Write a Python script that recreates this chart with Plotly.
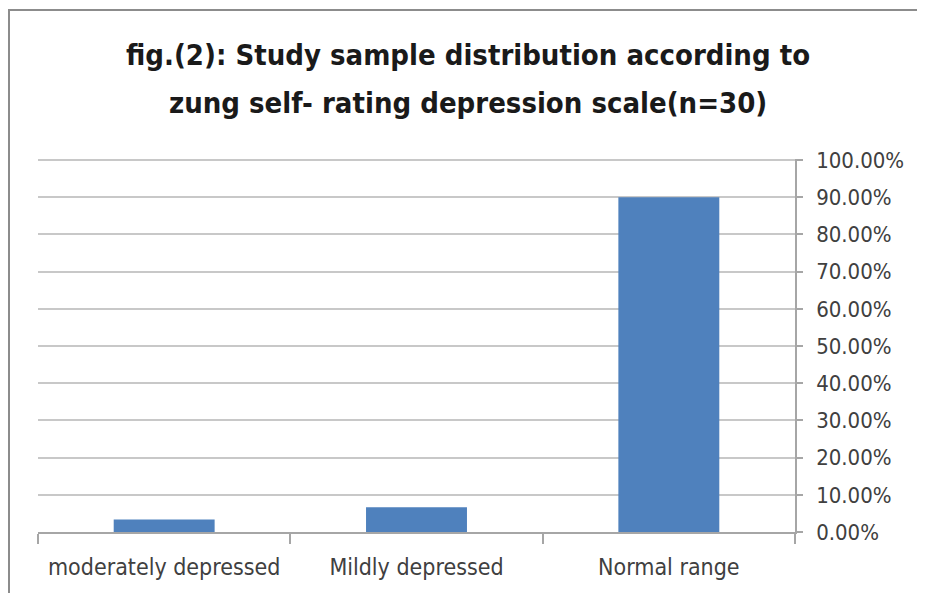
import plotly.graph_objects as go

categories = ["moderately depressed", "Mildly depressed", "Normal range"]
percent_values = [0.0333, 0.0667, 0.90]
tick_values = [0, 0.1, 0.2, 0.3, 0.4, 0.5, 0.6, 0.7, 0.8, 0.9, 1.0]
tick_labels = ["0.00%", "10.00%", "20.00%", "30.00%", "40.00%", "50.00%",
               "60.00%", "70.00%", "80.00%", "90.00%", "100.00%"]
title_line1 = "fig.(2): Study sample distribution according to"
title_line2 = "zung self- rating depression scale(n=30)"

# the page body adds an 8px offset, so the figure is drawn 8px smaller
OFF = 8
W, H = 925 - OFF, 593 - OFF
L, R, T, B = 38 - OFF, 925 - 795, 159 - OFF, 593 - 532
pw, ph = W - L - R, H - T - B

def px_x(p):
    return (p - OFF - L) / pw

def px_y(p):
    return (H - B - (p - OFF)) / ph

FONT = "DejaVu Sans Condensed, Liberation Sans Narrow, sans-serif"

fig = go.Figure()
fig.add_trace(go.Bar(x=categories, y=percent_values, marker_color="#4f81bd",
                     marker_line_width=0))

fig.update_layout(
    width=W, height=H,
    margin=dict(l=L, r=R, t=T, b=B),
    paper_bgcolor="white", plot_bgcolor="white",
    bargap=0.6,
    showlegend=False,
    font=dict(family=FONT, color="#404040"),
)
fig.update_xaxes(
    type="category", tickson="boundaries", ticks="outside", ticklen=10,
    tickcolor="#a6a6a6", tickwidth=1.5,
    showline=True, linecolor="#a6a6a6", linewidth=1.5,
    showgrid=False, tickfont=dict(size=23, color="#404040", family=FONT),
    ticklabelstandoff=14,
)
fig.update_yaxes(
    side="right", range=[0, 1.003], tickvals=tick_values, ticktext=tick_labels,
    ticks="outside", ticklen=6, tickcolor="#a6a6a6", tickwidth=1.5,
    showline=True, linecolor="#a6a6a6", linewidth=1.5,
    showgrid=True, gridcolor="#c8c8c8", gridwidth=1.5, zeroline=False,
    tickfont=dict(size=22, color="#404040", family=FONT),
    ticklabelstandoff=9,
)
for txt, yc in [(title_line1, 55), (title_line2, 103)]:
    fig.add_annotation(
        text="<b>" + txt + "</b>", xref="paper", yref="paper",
        x=px_x(468), y=px_y(yc), xanchor="center", yanchor="middle",
        showarrow=False, font=dict(size=29, color="#1a1a1a", family=FONT),
    )
# outer frame (top and left edges as in the reference)
fig.add_shape(type="line", xref="paper", yref="paper",
              x0=px_x(8), y0=px_y(10), x1=px_x(925), y1=px_y(10),
              line=dict(color="#8c8c8c", width=2))
fig.add_shape(type="line", xref="paper", yref="paper",
              x0=px_x(9), y0=px_y(10), x1=px_x(9), y1=px_y(593),
              line=dict(color="#8c8c8c", width=2))

fig.write_html("out.html")
